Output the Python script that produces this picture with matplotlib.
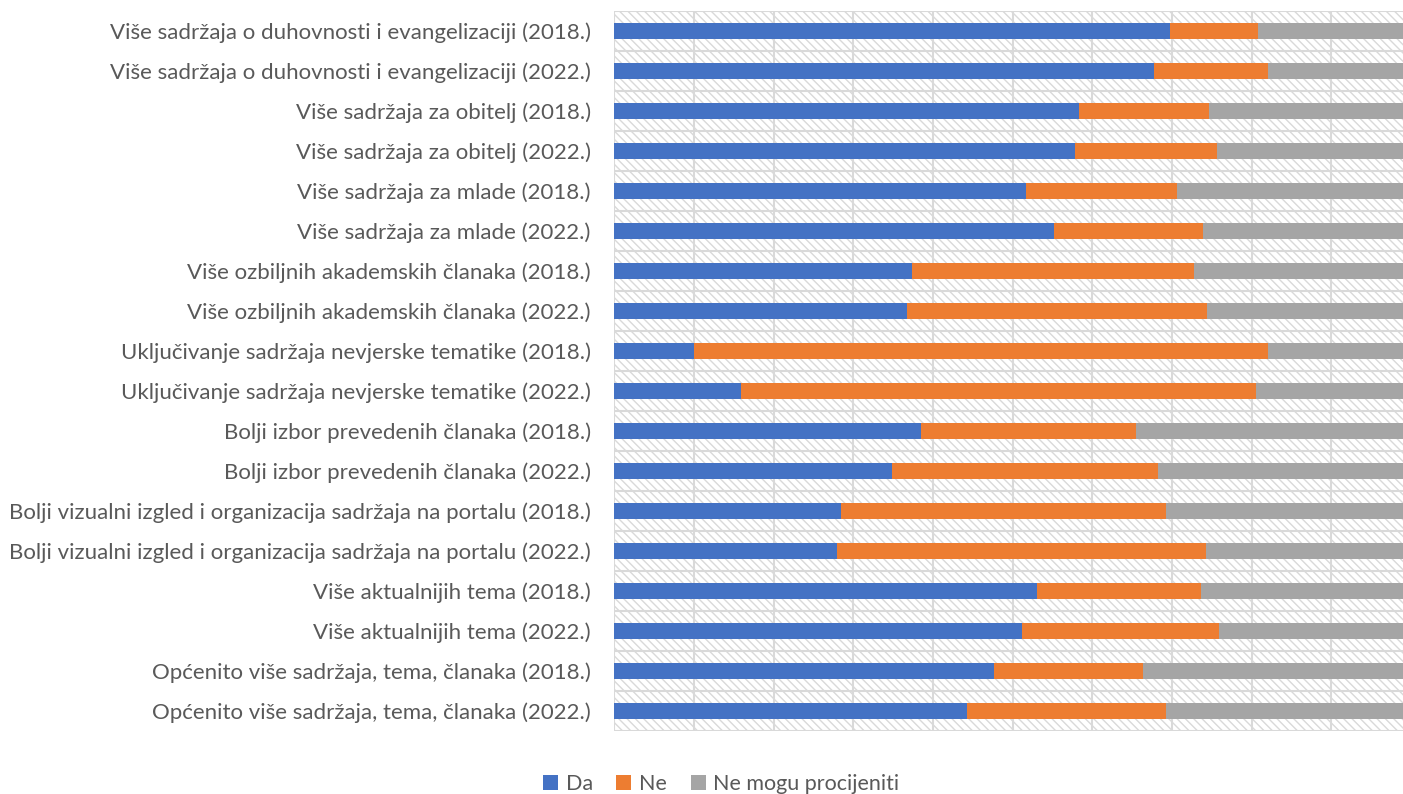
import numpy as np
import matplotlib
matplotlib.use('Agg')
import matplotlib.pyplot as plt
from matplotlib.patches import Rectangle

plt.rcParams['font.family'] = ['Lato', 'DejaVu Sans']

# Data (percent)
categories = [
    'Više sadržaja o duhovnosti i evangelizaciji (2018.)',
    'Više sadržaja o duhovnosti i evangelizaciji (2022.)',
    'Više sadržaja za obitelj (2018.)',
    'Više sadržaja za obitelj (2022.)',
    'Više sadržaja za mlade (2018.)',
    'Više sadržaja za mlade (2022.)',
    'Više ozbiljnih akademskih članaka (2018.)',
    'Više ozbiljnih akademskih članaka (2022.)',
    'Uključivanje sadržaja nevjerske tematike (2018.)',
    'Uključivanje sadržaja nevjerske tematike (2022.)',
    'Bolji izbor prevedenih članaka (2018.)',
    'Bolji izbor prevedenih članaka (2022.)',
    'Bolji vizualni izgled i organizacija sadržaja na portalu (2018.)',
    'Bolji vizualni izgled i organizacija sadržaja na portalu (2022.)',
    'Više aktualnijih tema (2018.)',
    'Više aktualnijih tema (2022.)',
    'Općenito više sadržaja, tema, članaka (2018.)',
    'Općenito više sadržaja, tema, članaka (2022.)',
]
da = [69.7, 67.8, 58.3, 57.8, 51.7, 55.2, 37.4, 36.8, 10.0,
      15.9, 38.5, 34.9, 28.5, 27.9, 53.0, 51.2, 47.6, 44.3]
ne = [11.1, 14.2, 16.3, 17.8, 18.9, 18.7, 35.4, 37.6, 72.0,
      64.6, 27.0, 33.3, 40.7, 46.4, 20.7, 24.7, 18.7, 25.0]
ne_mogu = [100 - a - b for a, b in zip(da, ne)]

series = ['Da', 'Ne', 'Ne mogu procijeniti']
colors = ['#4472C4', '#ED7D31', '#A5A5A5']
grid_color = '#D9D9D9'
text_color = '#595959'

fig = plt.figure(figsize=(14.03, 7.94), dpi=100)
# plot area runs past the right edge of the image, as in the reference
ax = fig.add_axes([614.3 / 1403, 63 / 794, 796.7 / 1403, 720 / 794])

y = np.arange(len(categories))
left = np.zeros(len(categories))
for vals, name, col in zip([da, ne, ne_mogu], series, colors):
    ax.barh(y, vals, left=left, height=0.4, color=col, label=name, zorder=3)
    left += np.array(vals)

ax.set_xlim(0, 100)
ax.set_ylim(len(categories) - 0.5, -0.5)

# hatched background
ax.add_patch(Rectangle((0, -0.5), 100, len(categories), facecolor='white',
                       edgecolor=grid_color, hatch='\\\\\\\\', linewidth=0, zorder=0))

# gridlines
for xv in np.arange(0, 101, 10):
    ax.axvline(xv, color=grid_color, lw=1.5, zorder=1)
for yv in np.arange(-0.5, len(categories), 1):
    ax.axhline(yv, color=grid_color, lw=1.5, zorder=1)

for s in ax.spines.values():
    s.set_visible(False)

ax.set_yticks(y)
ax.set_yticklabels(categories, fontsize=16, color=text_color)
ax.set_xticks([])
ax.tick_params(axis='y', length=0, pad=17)

fig.legend(loc='lower center', bbox_to_anchor=(0.514, -0.024), ncol=3,
           frameon=False, fontsize=15.5, labelcolor=text_color,
           handlelength=0.7, handleheight=0.7, handletextpad=0.35,
           columnspacing=1.1)

fig.savefig('out.png', dpi=100)
